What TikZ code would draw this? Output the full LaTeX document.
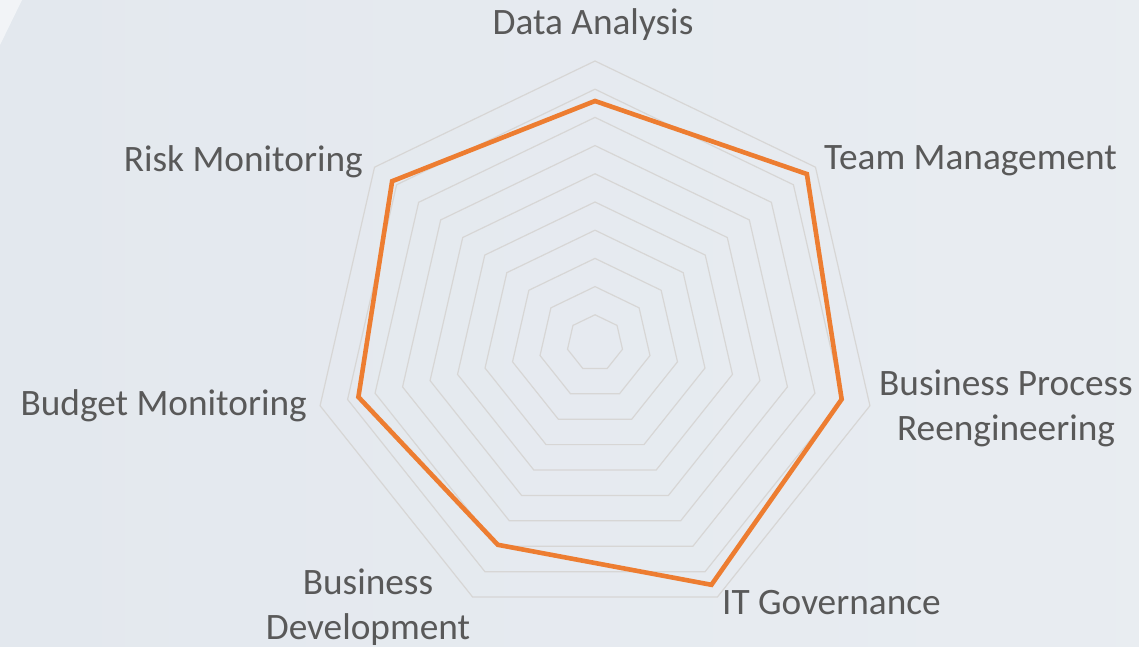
\documentclass[tikz,border=0pt]{standalone}
\usepackage{fontspec}
\setmainfont{Carlito}
\usetikzlibrary{calc}
\definecolor{bgcol}{HTML}{E3E8EE}
\definecolor{ringcol}{HTML}{D7D6D5}
\definecolor{datacol}{HTML}{ED7D31}
\definecolor{labcol}{HTML}{595959}
\begin{document}
\begin{tikzpicture}[x=1pt,y=1pt,
  ring/.style={draw=ringcol,line width=1.2pt,line join=miter},
  series/.style={draw=datacol,line width=4.6pt,line join=miter},
  axislabel/.style={text=labcol,font=\fontsize{37.3}{45}\selectfont,inner sep=0pt,align=center}]
\useasboundingbox (0,0) rectangle (1139,647);
\shade[left color=bgcol,right color=bgcol!80!white] (0,0) rectangle (1139,647);
\fill[white,opacity=0.55] (0,647) -- (22,647) -- (0,602) -- cycle;
\coordinate (c) at (595,304);
% grid rings
\foreach \i in {1,...,10}{
  \draw[ring] ($(c)+(90:28.2*\i)$)
    \foreach \k in {1,...,6}{ -- ($(c)+({90-\k*360/7}:28.2*\i)$)} -- cycle;
}
% data points
\coordinate (pDA)  at ($(c)+(90:242)$);
\coordinate (pTM)  at ($(c)+({90-360/7}:271)$);
\coordinate (pBPR) at ($(c)+({90-2*360/7}:253)$);
\coordinate (pITG) at ($(c)+({90-3*360/7}:268.4)$);
\coordinate (pBD)  at ($(c)+({90-4*360/7}:224)$);
\coordinate (pBM)  at ($(c)+({90-5*360/7}:242.7)$);
\coordinate (pRM)  at ($(c)+({90-6*360/7}:259.5)$);
\draw[series] (pDA) -- (pTM) -- (pBPR) -- (pITG) -- (pBD) -- (pBM) -- (pRM) -- cycle;
% labels
\node[axislabel,anchor=base] (lDA) at (593,612) {Data Analysis};
\node[axislabel,anchor=base west] (lTM) at (824,477) {Team Management};
\node[axislabel,anchor=center] (lBPR) at (1006,239) {Business Process\\Reengineering};
\node[axislabel,anchor=base west] (lITG) at (722,32) {IT Governance};
\node[axislabel,anchor=center] (lBD) at (368,40) {Business\\Development};
\node[axislabel,anchor=base east] (lBM) at (307,231) {Budget Monitoring};
\node[axislabel,anchor=base east] (lRM) at (363,475) {Risk Monitoring};
\end{tikzpicture}
\end{document}
